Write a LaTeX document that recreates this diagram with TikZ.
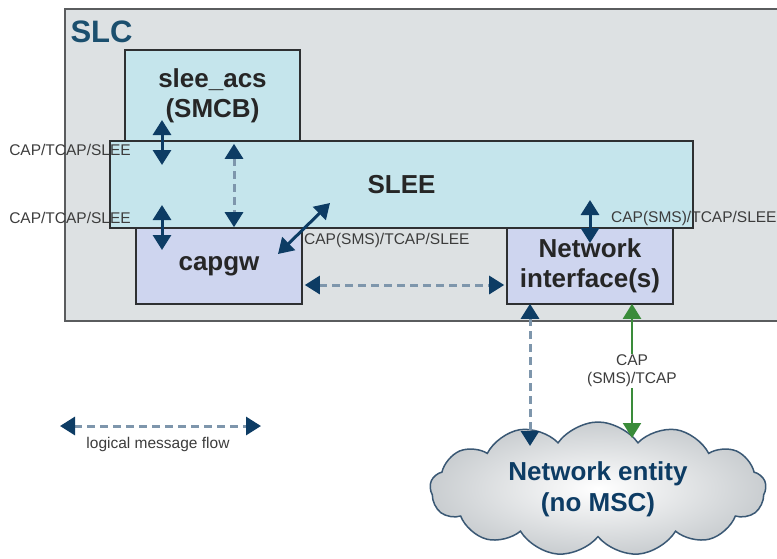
\documentclass[tikz,border=0pt]{standalone}
\usepackage{fontspec}
\setmainfont{Liberation Sans}
\usetikzlibrary{arrows.meta,shapes.symbols}
\definecolor{slcfill}{HTML}{DDE1E3}
\definecolor{slcline}{HTML}{5A5C5E}
\definecolor{slctext}{HTML}{1B4F6E}
\definecolor{sleefill}{HTML}{C5E5EC}
\definecolor{gwfill}{HTML}{CED5EF}
\definecolor{boxline}{HTML}{2E3032}
\definecolor{msgblue}{HTML}{0D3C64}
\definecolor{flowgray}{HTML}{7E96AC}
\definecolor{capgreen}{HTML}{3A8C3A}
\definecolor{labelgray}{HTML}{3C3C3C}
\definecolor{cloudline}{HTML}{3A5874}
\definecolor{cloudgray}{HTML}{C9CDD0}
\tikzset{
	box/.style = {
		draw=boxline, line width=1.6pt, inner sep=0pt, align=center,
		font=\bfseries\fontsize{26}{30}\selectfont, text=black!85
	},
	sleebox/.style = {box, fill=sleefill},
	gwbox/.style = {box, fill=gwfill},
	msg/.style = {draw=msgblue, line width=3pt, {Triangle[width=18pt,length=15pt]}-{Triangle[width=18pt,length=15pt]}},
	logical/.style = {
		draw=flowgray, line width=3pt, dash pattern=on 8pt off 5pt,
		{Triangle[width=18pt,length=15pt,color=msgblue]}-{Triangle[width=18pt,length=15pt,color=msgblue]}
	},
	proto/.style = {font=\fontsize{15.5}{18}\selectfont, text=labelgray, inner sep=1pt, align=center}
}

\begin{document}
\begin{tikzpicture}[x=1pt, y=-1pt]
	\useasboundingbox (0, 0) rectangle (777, 558);
	\node [draw=slcline, fill=slcfill, line width=1.8pt, minimum width=740pt, minimum height=312pt, anchor=north west] (slc) at (64, 8) {};
	\node [anchor=west, font=\bfseries\fontsize{31}{36}\selectfont, text=slctext] (slclabel) at (67, 32) {SLC};
	\node [sleebox, minimum width=175pt, minimum height=91pt] (acs) at (212.5, 95.5) {slee\_acs\\(SMCB)};
	\node [sleebox, minimum width=583pt, minimum height=87pt] (slee) at (401.5, 184.5) {SLEE};
	\node [gwbox, minimum width=166pt, minimum height=76pt] (capgw) at (219, 266) {capgw};
	\node [gwbox, minimum width=166pt, minimum height=76pt] (ni) at (590, 266) {Network\\interface(s)};
	\node [cloud, cloud puffs=13, cloud puff arc=110, aspect=2.6, draw=cloudline, line width=1.5pt,
		inner color=white, outer color=cloudgray,
		minimum width=336pt, minimum height=134pt, inner sep=0pt,
		align=center, font=\bfseries\fontsize{26}{31}\selectfont, text=msgblue] (net) at (598, 489) {Network entity\\(no MSC)};

	\coordinate (acsup) at (162, 120);
	\coordinate (sleeup) at (162, 165);
	\coordinate (sleedown) at (162, 205);
	\coordinate (gwup) at (162, 250);
	\coordinate (logicx) at (234, 0);
	\coordinate (gwdiag) at (278, 254);
	\coordinate (sleediag) at (330, 203);
	\coordinate (logicy) at (0, 285);
	\coordinate (nitop) at (590, 200);
	\coordinate (niup) at (590, 243);
	\coordinate (netdash) at (530, 446);
	\coordinate (netcap) at (632, 438);
	\coordinate (legendl) at (60, 426);
	\coordinate (legendr) at (261, 426);

	\draw [msg] (acsup) -- (sleeup);
	\draw [msg] (sleedown) -- (gwup);
	\draw [logical] ([yshift=-2pt]acs.south -| logicx) -- (capgw.north -| logicx);
	\draw [msg] (gwdiag) -- (sleediag);
	\draw [logical] ([xshift=2pt]capgw.east |- logicy) -- ([xshift=-2pt]ni.west |- logicy);
	\draw [msg] (nitop) -- (niup);
	\draw [logical] ([yshift=1pt]ni.south -| netdash) -- (netdash);
	\draw [draw=capgreen, line width=2.2pt, {Triangle[width=18pt,length=15pt]}-{Triangle[width=18pt,length=15pt]}, capgreen]
		([yshift=1pt]ni.south -| netcap) -- node [proto, fill=white, pos=0.5] (caplabel) {CAP\\(SMS)/TCAP} (netcap);
	\draw [logical] (legendl) -- (legendr);

	\node [proto] (leftup) at (70, 150) {CAP/TCAP/SLEE};
	\node [proto] (leftdown) at (70, 218) {CAP/TCAP/SLEE};
	\node [proto, anchor=west] (gwlabel) at (303, 240) {CAP(SMS)/TCAP/SLEE};
	\node [proto, anchor=west] (nilabel) at (610, 218) {CAP(SMS)/TCAP/SLEE};
	\node [proto] (legend) at (158, 444) {logical message flow};
\end{tikzpicture}
\end{document}
